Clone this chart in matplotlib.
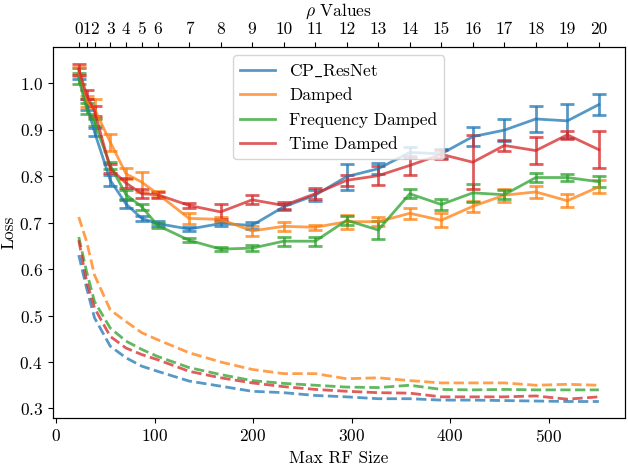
import numpy as np
import matplotlib as mpl
import matplotlib.pyplot as plt

mpl.rcParams["font.family"] = ["cmr10", "DejaVu Serif"]
mpl.rcParams["mathtext.fontset"] = "cm"
mpl.rcParams["axes.formatter.use_mathtext"] = True
mpl.rcParams["font.size"] = 12.5

# ===== Data =====
rf_sizes = [23, 31, 39, 55, 71, 87, 103, 135, 167, 199, 231, 263, 295, 327, 359, 391, 423, 455, 487, 519, 551]
rho_labels = [str(i) for i in range(21)]

names = [r"CP$\_$ResNet", "Damped", "Frequency Damped", "Time Damped"]

# solid: test loss (mean, std)
cp_test = [1.02, 0.955, 0.895, 0.791, 0.74, 0.709, 0.698, 0.686, 0.698, 0.694, 0.734,
           0.759, 0.799, 0.816, 0.851, 0.848, 0.885, 0.899, 0.923, 0.919, 0.954]
cp_err = [0.012, 0.012, 0.008, 0.012, 0.008, 0.006, 0.005, 0.004, 0.005, 0.008, 0.006,
          0.012, 0.028, 0.012, 0.012, 0.01, 0.02, 0.023, 0.029, 0.036, 0.023]
damped_test = [1.025, 0.96, 0.945, 0.873, 0.805, 0.787, 0.762, 0.709, 0.707, 0.682, 0.692,
               0.690, 0.702, 0.702, 0.720, 0.705, 0.735, 0.759, 0.766, 0.747, 0.777]
damped_err = [0.01, 0.012, 0.02, 0.018, 0.012, 0.022, 0.006, 0.012, 0.006, 0.01, 0.01,
              0.005, 0.015, 0.01, 0.012, 0.015, 0.012, 0.014, 0.012, 0.014, 0.014]
freq_test = [1.01, 0.945, 0.915, 0.823, 0.76, 0.734, 0.694, 0.662, 0.643, 0.645, 0.660,
             0.660, 0.705, 0.684, 0.762, 0.739, 0.764, 0.760, 0.797, 0.797, 0.788]
freq_err = [0.012, 0.012, 0.008, 0.008, 0.01, 0.006, 0.006, 0.004, 0.005, 0.006, 0.01,
            0.01, 0.01, 0.02, 0.01, 0.012, 0.02, 0.01, 0.01, 0.008, 0.012]
time_test = [1.03, 0.975, 0.94, 0.816, 0.785, 0.762, 0.760, 0.737, 0.723, 0.749, 0.737,
             0.762, 0.791, 0.801, 0.823, 0.847, 0.830, 0.866, 0.855, 0.889, 0.857]
time_err = [0.012, 0.01, 0.01, 0.01, 0.01, 0.01, 0.006, 0.006, 0.016, 0.01, 0.008,
            0.012, 0.012, 0.02, 0.021, 0.01, 0.058, 0.012, 0.029, 0.008, 0.04]

# dashed: train loss
cp_train = [0.630, 0.559, 0.495, 0.434, 0.409, 0.391, 0.380, 0.359, 0.348, 0.337, 0.334,
            0.328, 0.325, 0.321, 0.321, 0.318, 0.318, 0.317, 0.316, 0.315, 0.315]
damped_train = [0.712, 0.659, 0.587, 0.512, 0.487, 0.463, 0.448, 0.420, 0.400, 0.384, 0.375,
                0.375, 0.364, 0.366, 0.360, 0.355, 0.355, 0.355, 0.350, 0.352, 0.350]
freq_train = [0.669, 0.594, 0.530, 0.473, 0.445, 0.427, 0.412, 0.388, 0.373, 0.360, 0.354,
              0.350, 0.346, 0.345, 0.350, 0.341, 0.340, 0.341, 0.340, 0.340, 0.340]
time_train = [0.662, 0.573, 0.516, 0.455, 0.430, 0.416, 0.405, 0.380, 0.366, 0.355, 0.347,
              0.341, 0.337, 0.334, 0.333, 0.325, 0.325, 0.325, 0.327, 0.320, 0.325]

tests = [cp_test, damped_test, freq_test, time_test]
errs = [cp_err, damped_err, freq_err, time_err]
trains = [cp_train, damped_train, freq_train, time_train]
colors = ["tab:blue", "tab:orange", "tab:green", "tab:red"]

# ===== Plot =====
fig, ax = plt.subplots(figsize=(6.28, 4.68), dpi=100)
fig.subplots_adjust(left=0.084, right=0.995, top=0.900, bottom=0.106)

handles = []
for name, test, err, c in zip(names, tests, errs, colors):
    eb = ax.errorbar(rf_sizes, test, yerr=err, color=c, alpha=0.75, lw=2,
                     capsize=5, capthick=2, elinewidth=2, label=name)
    handles.append(eb[0])
for train, c in zip(trains, colors):
    ax.plot(rf_sizes, train, color=c, alpha=0.75, lw=2, ls="--")

ax.set_xlabel("Max RF Size")
ax.set_ylabel("Loss", labelpad=2)
ax.legend(handles, names, loc="upper center")

# == top axis: rho ==
ax2 = ax.twiny()
ax2.set_xlim(ax.get_xlim())
ax2.set_xticks(rf_sizes)
ax2.set_xticklabels(rho_labels)
ax2.set_xlabel(r"$\rho$ Values")

plt.savefig("out.png", dpi=100)
